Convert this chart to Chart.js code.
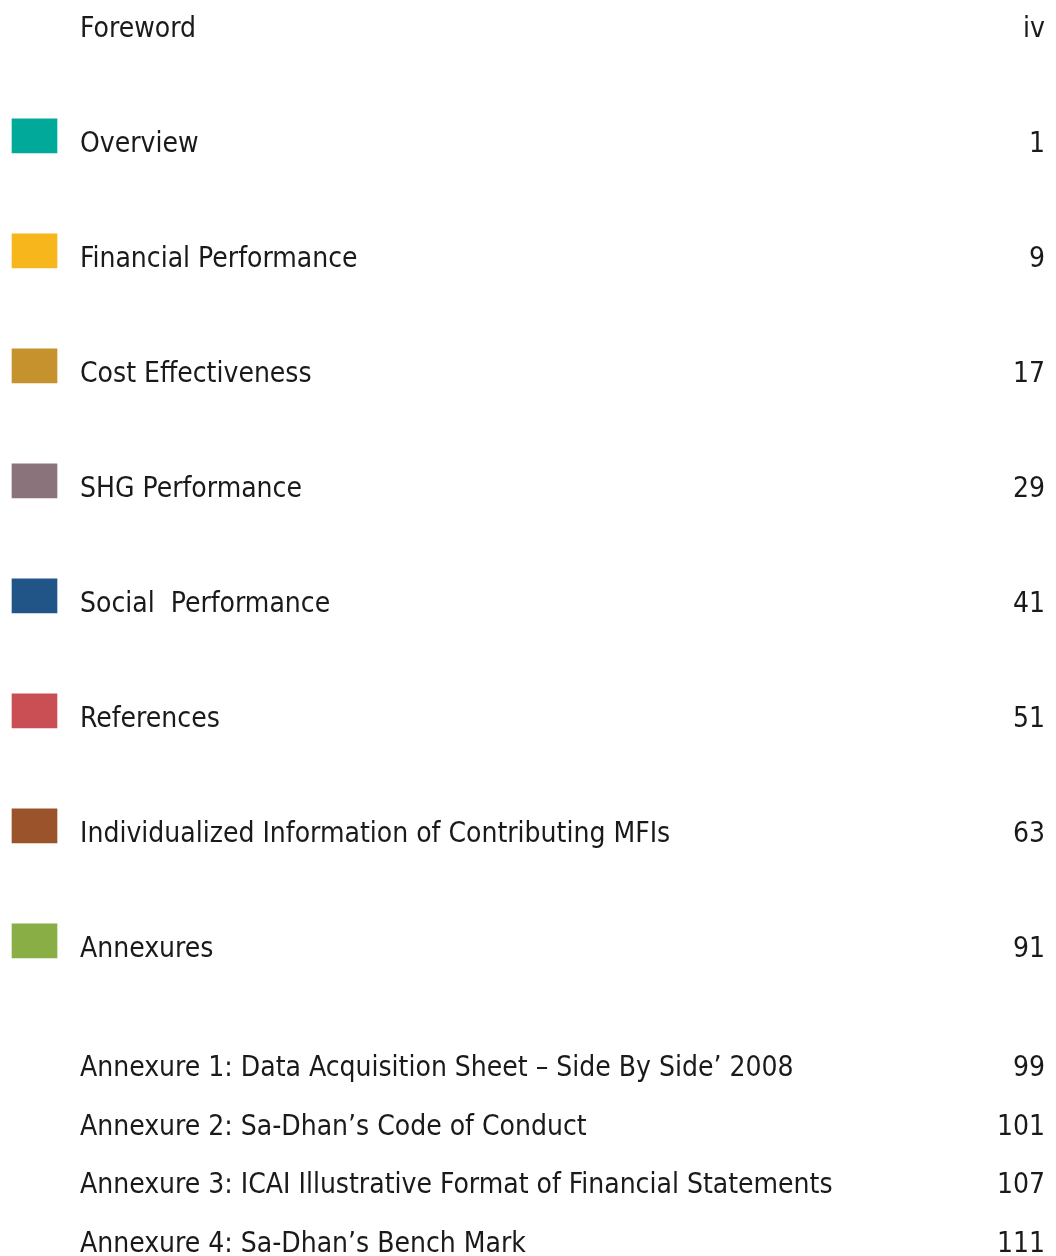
<!DOCTYPE html>
<html>
<head>
<meta charset="utf-8">
<script src="https://cdn.jsdelivr.net/npm/chart.js@4.4.1/dist/chart.umd.min.js"></script>
<style>
  html, body { margin: 0; padding: 0; background: #fff; }
  #toc { display: block; }
</style>
</head>
<body>
<canvas id="toc" width="1056" height="1256"></canvas>
<script>
// table of contents entries
const sections = ['Foreword', 'Overview', 'Financial Performance', 'Cost Effectiveness', 'SHG Performance',
    'Social  Performance', 'References', 'Individualized Information of Contributing MFIs', 'Annexures'];
const sectionPages = ['iv', '1', '9', '17', '29', '41', '51', '63', '91'];
const sectionColors = [null, '#00A99A', '#F6B61C', '#C6922E', '#8A737B', '#215588', '#C94F55', '#9B532C', '#88AE45'];

const annexures = ['Annexure 1: Data Acquisition Sheet \u2013 Side By Side\u2019 2008', 'Annexure 2: Sa-Dhan\u2019s Code of Conduct',
    'Annexure 3: ICAI Illustrative Format of Financial Statements', 'Annexure 4: Sa-Dhan\u2019s Bench Mark'];
const annexurePages = ['99', '101', '107', '111'];

// row slot: sections every 2 units, annexures every unit after the last section
const sectionSlot = (i) => i * 2;
const annexureSlot = (j) => sections.length * 2 + 0.07 + j * 1.02;

const swatchData = [];
const swatchColors = [];
sections.forEach((s, i) => {
    if (sectionColors[i]) {
        swatchData.push({ x: [12, 57], y: sectionSlot(i) - 0.28 });
        swatchColors.push(sectionColors[i]);
    }
});

const FONT = '28px "Liberation Sans Narrow", "DejaVu Sans Condensed", sans-serif';

const tocText = {
    id: 'tocText',
    afterDatasetsDraw(chart) {
        const ctx = chart.ctx;
        const xs = chart.scales.x;
        const ys = chart.scales.y;
        ctx.save();
        ctx.font = FONT;
        ctx.fillStyle = '#1a1a1a';
        ctx.textBaseline = 'alphabetic';
        const row = (title, page, slot) => {
            const y = ys.getPixelForValue(slot);
            ctx.textAlign = 'left';
            ctx.fillText(title, xs.getPixelForValue(80), y);
            ctx.textAlign = 'right';
            ctx.fillText(page, xs.getPixelForValue(1045), y);
        };
        sections.forEach((s, i) => row(s, sectionPages[i], sectionSlot(i)));
        annexures.forEach((a, j) => row(a, annexurePages[j], annexureSlot(j)));
        ctx.restore();
    }
};

new Chart(document.getElementById('toc'), {
    type: 'bar',
    data: {
        datasets: [{
            data: swatchData,
            backgroundColor: swatchColors,
            borderWidth: 0,
            barThickness: 34,
            clip: false
        }]
    },
    options: {
        indexAxis: 'y',
        responsive: false,
        animation: false,
        layout: { padding: 0 },
        plugins: { legend: { display: false }, tooltip: { enabled: false } },
        scales: {
            x: { type: 'linear', min: 0, max: 1056, display: false, offset: false },
            y: { type: 'linear', reverse: true, offset: false, grace: 0,
                 min: -37 / 57.5, max: (1256 - 37) / 57.5, display: false }
        }
    },
    plugins: [tocText]
});
</script>
</body>
</html>
